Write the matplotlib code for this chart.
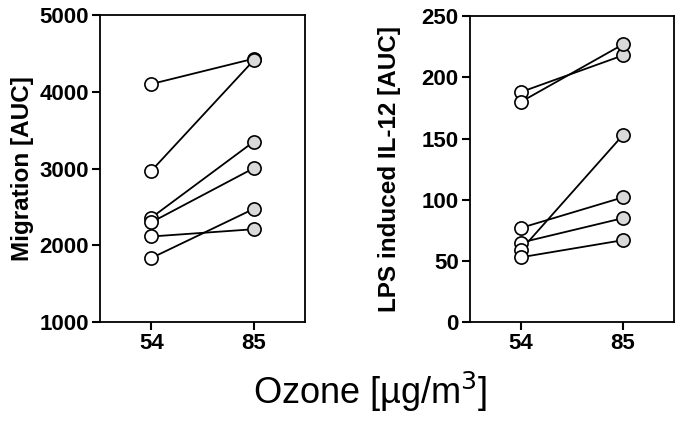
import matplotlib
matplotlib.use("Agg")
import matplotlib.pyplot as plt

plt.rcParams['font.family'] = ['Liberation Sans', 'DejaVu Sans']

doses = ["54", "85"]

# paired values per subject (54 -> 85)
migration_54 = [4100, 2970, 2360, 2300, 2115, 1835]
migration_85 = [4430, 4410, 3350, 3005, 2210, 2475]

il12_54 = [188, 180, 77, 65, 59, 53]
il12_85 = [218, 227, 102, 85, 153, 67]


def _panel(ax, before, after, ylim, yticks, ylabel, pad):
    for a, b in zip(before, after):
        ax.plot([0, 1], [a, b], color='black', lw=1.3, zorder=1)
    ax.plot([0] * len(before), before, 'o', ms=9.5, mfc='white', mec='black', mew=1.2, zorder=2)
    ax.plot([1] * len(after), after, 'o', ms=9.5, mfc='#d9d9d9', mec='black', mew=1.2, zorder=2)
    ax.set_xlim(-0.5, 1.5)
    ax.set_ylim(*ylim)
    ax.set_yticks(yticks)
    ax.set_xticks([0, 1])
    ax.set_xticklabels(doses)
    ax.tick_params(length=6, width=1.5, labelsize=16, direction='out', pad=2)
    for lab in ax.get_xticklabels() + ax.get_yticklabels():
        lab.set_fontweight('bold')
    for s in ax.spines.values():
        s.set_linewidth(1.3)
    ax.set_ylabel(ylabel, fontsize=17.5, fontweight='bold', labelpad=pad)


fig = plt.figure(figsize=(6.81, 4.25), dpi=100)
ax1 = fig.add_axes([0.147, 0.242, 0.301, 0.723])
ax2 = fig.add_axes([0.690, 0.242, 0.300, 0.720])

_panel(ax1, migration_54, migration_85, (1000, 5000), [1000, 2000, 3000, 4000, 5000], 'Migration [AUC]', 4)
_panel(ax2, il12_54, il12_85, (0, 250), [0, 50, 100, 150, 200, 250], 'LPS induced IL-12 [AUC]', 15)

fig.text(0.543, 0.077, 'Ozone [µg/m$^3$]', fontsize=26, ha='center', va='center')

fig.savefig('out.png', dpi=100)
